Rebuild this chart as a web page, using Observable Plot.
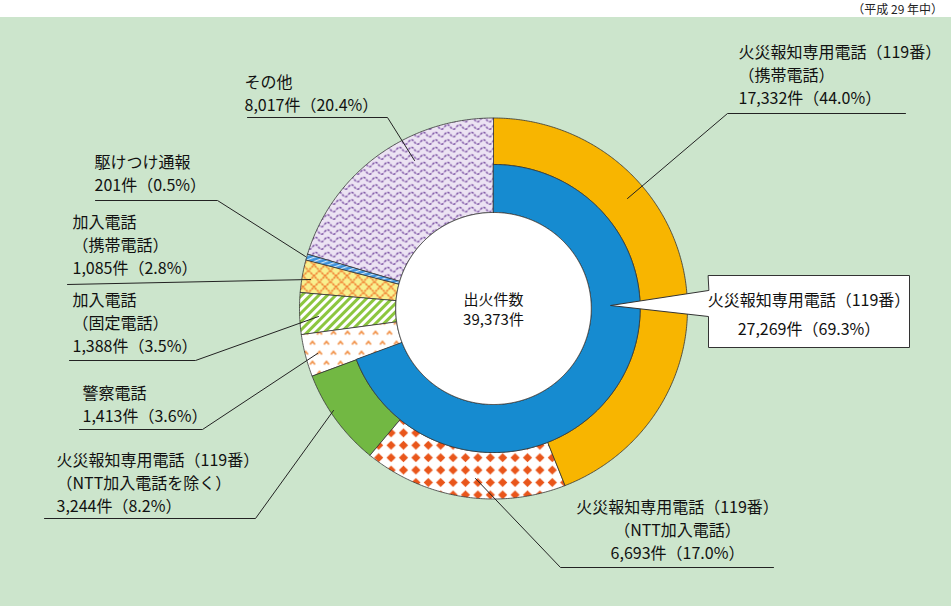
<!DOCTYPE html>
<html><head><meta charset="utf-8">
<script src="https://cdn.jsdelivr.net/npm/d3@7"></script>
<script src="https://cdn.jsdelivr.net/npm/@observablehq/plot@0.6"></script>
<style>
body{margin:0;background:#fff;font-family:"Noto Sans CJK JP",sans-serif;}
#note{height:17px;line-height:17px;font-size:12px;text-align:right;padding-right:8px;color:#222;}
#chart svg{display:block;}
</style></head><body>
<div id="note">（平成 29 年中）</div>
<div id="chart"></div>
<script>
// ---------- data ----------
const categories = [
  "火災報知専用電話（119番）（携帯電話）",
  "火災報知専用電話（119番）（NTT加入電話）",
  "火災報知専用電話（119番）（NTT加入電話を除く）",
  "警察電話",
  "加入電話（固定電話）",
  "加入電話（携帯電話）",
  "駆けつけ通報",
  "その他"
];
const counts = [17332, 6693, 3244, 1413, 1388, 1085, 201, 8017];
const percents = [44.0, 17.0, 8.2, 3.6, 3.5, 2.8, 0.5, 20.4];
const is119 = [true, true, true, false, false, false, false, false];
const innerName = "火災報知専用電話（119番）";
const innerCount = 27269;
const innerPercent = 69.3;
const totalName = "出火件数";
const totalCount = 39373;

// ---------- layout / style ----------
const W = 951, H = 589;
const CX = 493, CY = 291, RX = 194, RY = 190.5;
const R_OUT = 1, R_MID = 0.756, R_HOLE = 0.504;
const fills = ["#f8b500", "url(#pNTT)", "#72b843", "url(#pPolice)", "url(#pFixed)", "url(#pMobile)", "url(#pRush)", "url(#pOther)"];
const innerFill = "#168bd0";
const fmt = d3.format(",");
const toX = px => (px - CX) / RX;
const toY = py => (CY - py) / RY;
const FS = 16;

// label blocks: [x, top y, anchor] in pixels
const labelLayout = [
  [738, 24, "start"],
  [677, 479, "middle"],
  [56, 432, "start"],
  [82, 365, "start"],
  [72, 272, "start"],
  [72, 194, "start"],
  [94, 134, "start"],
  [244, 54, "start"]
];
const labelNames = [
  ["火災報知専用電話（119番）", "（携帯電話）"],
  ["火災報知専用電話（119番）", "（NTT加入電話）"],
  ["火災報知専用電話（119番）", "（NTT加入電話を除く）"],
  ["警察電話"],
  ["加入電話", "（固定電話）"],
  ["加入電話", "（携帯電話）"],
  ["駆けつけ通報"],
  ["その他"]
];
const leaderLayout = [
  [[627, 181], [727, 96], [905, 96]],
  [[475, 461], [560, 550], [773, 550]],
  [[333, 393], [255, 501], [44, 501]],
  [[317, 336], [202, 412], [79, 412]],
  [[318, 299], [195, 343], [69, 343]],
  [[310, 262], [67, 267]],
  [[305, 239], [217, 183], [95, 183]],
  [[414, 143], [387, 100], [247, 100]]
];
const callout = [[708, 258], [909, 258], [909, 330], [708, 330], [708, 299], [610, 288], [708, 273]];

// ---------- geometry from data ----------
const pie = d3.pie().sort(null).value(d => d)(counts);
function arcPoly(key, a0, a1, r0, r1) {
  const n = Math.max(2, Math.ceil((a1 - a0) / (Math.PI / 360)));
  const pts = [];
  for (let i = 0; i <= n; i++) { const a = a0 + (a1 - a0) * i / n; pts.push({key, x: r1 * Math.sin(a), y: r1 * Math.cos(a)}); }
  if (r0 > 0) for (let i = n; i >= 0; i--) { const a = a0 + (a1 - a0) * i / n; pts.push({key, x: r0 * Math.sin(a), y: r0 * Math.cos(a)}); }
  return pts;
}
const innerEnd = pie.filter((d, i) => is119[i]).reduce((m, d) => Math.max(m, d.endAngle), 0);

const marks = [];
pie.forEach((d, i) => {
  marks.push(Plot.line(arcPoly(categories[i], d.startAngle, d.endAngle, is119[i] ? R_MID : R_HOLE, R_OUT),
    {x: "x", y: "y", curve: "linear-closed", fill: fills[i], stroke: "#333", strokeWidth: 0.8}));
});
marks.push(Plot.line(arcPoly(innerName, 0, innerEnd, R_HOLE, R_MID),
  {x: "x", y: "y", curve: "linear-closed", fill: innerFill, stroke: "#333", strokeWidth: 0.8}));
marks.push(Plot.line(arcPoly("hole", 0, 2 * Math.PI, 0, R_HOLE),
  {x: "x", y: "y", curve: "linear-closed", fill: "white", stroke: "#333", strokeWidth: 0.8}));

// leaders
const leaderPts = [];
leaderLayout.forEach((pts, i) => pts.forEach(([px, py]) => leaderPts.push({id: i, x: toX(px), y: toY(py)})));
marks.push(Plot.line(leaderPts, {x: "x", y: "y", z: "id", stroke: "#222", strokeWidth: 1}));

// callout box
marks.push(Plot.line(callout.map(([px, py]) => ({x: toX(px), y: toY(py)})),
  {x: "x", y: "y", curve: "linear-closed", fill: "white", stroke: "#333", strokeWidth: 1}));

// labels
const labels = categories.map((c, i) => ({
  x: toX(labelLayout[i][0]), y: toY(labelLayout[i][1]), anchor: labelLayout[i][2],
  text: [...labelNames[i], `${fmt(counts[i])}件（${percents[i].toFixed(1)}%）`].join("\n")
}));
["start", "middle"].forEach(a => {
  marks.push(Plot.text(labels.filter(d => d.anchor === a), {x: "x", y: "y", text: "text", textAnchor: a,
    lineAnchor: "top", lineHeight: 1.45, fontSize: FS, fill: "#111"}));
});
marks.push(Plot.text([{x: toX(808.5), y: toY(268), text: innerName + "\n" + `${fmt(innerCount)}件（${innerPercent.toFixed(1)}%）`}],
  {x: "x", y: "y", text: "text", lineAnchor: "top", lineHeight: 1.8, fontSize: FS, fill: "#111"}));
marks.push(Plot.text([{x: 0, y: 0, text: totalName + "\n" + `${fmt(totalCount)}件`}],
  {x: "x", y: "y", text: "text", lineAnchor: "middle", lineHeight: 1.3, fontSize: 15, fill: "#111"}));

const svg = Plot.plot({
  width: W, height: H, margin: 0,
  x: {domain: [toX(0), toX(W)], range: [0, W], axis: null},
  y: {domain: [toY(H), toY(0)], range: [H, 0], axis: null},
  style: {background: "#cce5cc", fontFamily: "'Noto Sans CJK JP', sans-serif"},
  marks
});

const defs = `
<pattern id="pNTT" patternUnits="userSpaceOnUse" width="12.4" height="12.4">
  <rect width="12.4" height="12.4" fill="#fff"/>
  <path d="M6.2,1.6 L10.8,6.2 L6.2,10.8 L1.6,6.2Z" fill="#e9561b"/>
</pattern>
<pattern id="pPolice" patternUnits="userSpaceOnUse" width="14" height="20">
  <rect width="14" height="20" fill="#fff"/>
  <path d="M1.5,7 L4,4 L6.5,7 M8.5,17 L11,14 L13.5,17" fill="none" stroke="#f08a3c" stroke-width="1.6"/>
</pattern>
<pattern id="pFixed" patternUnits="userSpaceOnUse" width="6" height="6" patternTransform="rotate(45)">
  <rect width="6" height="6" fill="#fff"/>
  <rect width="3" height="6" fill="#8cc63f"/>
</pattern>
<pattern id="pMobile" patternUnits="userSpaceOnUse" width="11" height="11">
  <rect width="11" height="11" fill="#f8f08f"/>
  <path d="M0,0 L11,11 M11,0 L0,11" stroke="#f07428" stroke-width="1.5" stroke-dasharray="2.2 0.8"/>
</pattern>
<pattern id="pRush" patternUnits="userSpaceOnUse" width="4" height="4" patternTransform="rotate(-20)">
  <rect width="4" height="4" fill="#3d92dc"/>
  <rect width="4" height="1.2" fill="#cfe6f8"/>
</pattern>
<pattern id="pOther" patternUnits="userSpaceOnUse" width="12" height="7.5">
  <rect width="12" height="7.5" fill="#ece3f3"/>
  <path d="M0,4.5 C2,1.5 4,1.5 6,4.5 C8,7.5 10,7.5 12,4.5" fill="none" stroke="#74489e" stroke-width="1.4" stroke-dasharray="2.5 1.2"/>
</pattern>`;
const g = document.createElementNS("http://www.w3.org/2000/svg", "defs");
g.innerHTML = defs;
svg.insertBefore(g, svg.firstChild);
document.getElementById("chart").appendChild(svg);
</script>
</body></html>
